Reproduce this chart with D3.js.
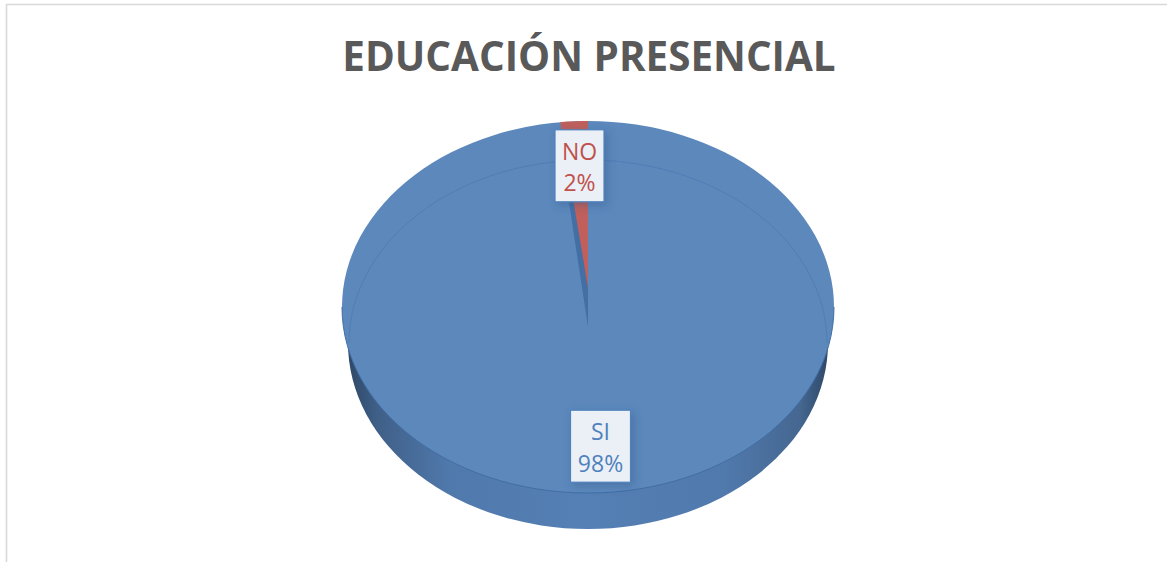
<!DOCTYPE html>
<html>

<head>
  <meta charset="utf-8">
  <style>
    html, body {
      margin: 0;
      padding: 0;
      background: #fff;
    }

    svg {
      display: block;
      background-color: #fff;
    }

    svg text {
      font-family: "Open Sans", sans-serif;
    }

    .title {
      font-size: 40.4px;
      font-weight: 700;
      fill: #595959;
    }

    .label {
      font-size: 23px;
    }
  </style>
</head>

<body>
  <div id="chart"></div>
  <script src="https://d3js.org/d3.v7.min.js"></script>
  <script>
    var categories = ["NO", "SI"];
    var values = [1.8, 98.2];
    var labelColors = ["#c0504d", "#4f81bd"];
    var sliceColors = ["#c05f5b", "#5c88bc"];
    var chartTitle = "EDUCACIÓN PRESENCIAL";

    var width = 1167,
      height = 562;

    // top face and the lower ellipse that makes the side of the disc
    var cx = 588,
      topY = 307,
      rx = 246,
      ry = 186,
      lowerY = 343,
      lowerRx = 240,
      apexY = 288,
      shadowTipY = 327;

    var svg = d3.select("#chart").append("svg")
      .attr("width", width)
      .attr("height", height);

    var defs = svg.append("defs");

    var side = defs.append("linearGradient")
      .attr("id", "side")
      .attr("gradientUnits", "userSpaceOnUse")
      .attr("x1", cx - rx).attr("x2", cx + rx)
      .attr("y1", 0).attr("y2", 0);
    [[0, "#2a4260"], [0.07, "#3f5f87"], [0.22, "#5079ac"], [0.5, "#5580b5"],
      [0.78, "#5079ac"], [0.93, "#456791"], [1, "#2a4260"]].forEach(function(s) {
      side.append("stop").attr("offset", s[0]).attr("stop-color", s[1]);
    });

    defs.append("filter").attr("id", "soft")
      .append("feGaussianBlur").attr("stdDeviation", 0.7);

    var boxShadow = defs.append("filter").attr("id", "boxShadow")
      .attr("x", "-30%").attr("y", "-30%").attr("width", "160%").attr("height", "160%");
    boxShadow.append("feDropShadow")
      .attr("dx", 3).attr("dy", 3).attr("stdDeviation", 4)
      .attr("flood-color", "#2f5584").attr("flood-opacity", 0.4);

    // frame of the chart area, cut by the edges of the picture
    svg.append("path")
      .attr("d", "M6.5," + height + "V4.5H" + width)
      .attr("fill", "none")
      .attr("stroke", "#d9d9d9")
      .attr("stroke-width", 1.6);

    svg.append("text")
      .attr("class", "title")
      .attr("x", 589)
      .attr("y", 71)
      .attr("text-anchor", "middle")
      .text(chartTitle);

    // side of the disc
    svg.append("ellipse")
      .attr("cx", cx).attr("cy", lowerY)
      .attr("rx", lowerRx).attr("ry", ry)
      .attr("fill", "url(#side)");

    var total = d3.sum(values);
    var pie = d3.pie().sort(null)
      .startAngle(-2 * Math.PI * values[0] / total)
      .endAngle(2 * Math.PI * (1 - values[0] / total));
    var slices = pie(values);

    function rim(a, f) {
      f = f === undefined ? 1 : f;
      return [cx + rx * f * Math.sin(a), topY - ry * f * Math.cos(a)];
    }

    function slicePath(d) {
      var n = Math.max(2, Math.ceil((d.endAngle - d.startAngle) * 60));
      var pts = d3.range(n + 1).map(function(i) {
        return rim(d.startAngle + (d.endAngle - d.startAngle) * i / n);
      });
      return d3.line()([[cx, apexY]].concat(pts)) + "Z";
    }

    // blue slice first, it covers the whole face apart from the gap
    svg.append("ellipse")
      .attr("cx", cx).attr("cy", topY)
      .attr("rx", rx).attr("ry", ry)
      .attr("fill", sliceColors[1]);

    // inner wall of the gap, its top end stays hidden under the label
    svg.append("path")
      .attr("d", d3.line()([rim(slices[0].startAngle * 1.15, 0.8), [cx, shadowTipY], rim(slices[0].endAngle)]) + "Z")
      .attr("fill", "#436fa5")
      .attr("filter", "url(#soft)");

    svg.selectAll("path.slice")
      .data(slices.slice(0, 1))
      .enter().append("path")
      .attr("class", "slice")
      .attr("d", slicePath)
      .attr("fill", function(d) { return sliceColors[d.index]; });

    // rim lines seen on the face
    var lowerArc = d3.range(0, 181, 3).map(function(t) {
      var a = (t - 90) * Math.PI / 180;
      return [cx + (lowerRx - 1) * Math.sin(a), lowerY - (ry - 3) * Math.cos(a)];
    });
    svg.append("path")
      .attr("d", d3.line()(lowerArc))
      .attr("fill", "none")
      .attr("stroke", "#4f7eb6")
      .attr("stroke-width", 1);

    var frontArc = d3.range(90, 271, 3).map(function(t) {
      var a = t * Math.PI / 180;
      return rim(a);
    });
    svg.append("path")
      .attr("d", d3.line()(frontArc))
      .attr("fill", "none")
      .attr("stroke", "#416ea5")
      .attr("stroke-width", 1);

    // data labels
    var format = d3.format(".0%"),
      boxW = [49, 60],
      boxH = 72;

    var labels = svg.selectAll("g.dl")
      .data(slices)
      .enter().append("g")
      .attr("class", "dl")
      .attr("transform", function(d) {
        var p = rim((d.startAngle + d.endAngle) / 2, 0.755);
        return "translate(" + (p[0] + 2) + "," + (p[1] - 1) + ")";
      });

    labels.append("rect")
      .attr("x", function(d) { return -boxW[d.index] / 2; })
      .attr("y", -boxH / 2)
      .attr("width", function(d) { return boxW[d.index]; })
      .attr("height", boxH)
      .attr("fill", "#ebf0f6")
      .attr("stroke", "#4f81bd")
      .attr("stroke-width", 1.2)
      .attr("filter", "url(#boxShadow)");

    labels.append("text")
      .attr("class", "label")
      .attr("text-anchor", "middle")
      .attr("y", -6)
      .attr("fill", function(d) { return labelColors[d.index]; })
      .text(function(d) { return categories[d.index]; });

    labels.append("text")
      .attr("class", "label")
      .attr("text-anchor", "middle")
      .attr("y", 25.5)
      .attr("fill", function(d) { return labelColors[d.index]; })
      .text(function(d) { return format(d.value / total); });
  </script>
</body>

</html>
